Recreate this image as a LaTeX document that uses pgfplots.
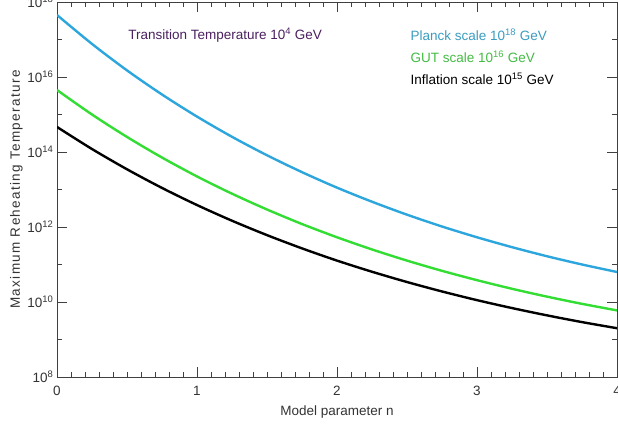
\documentclass[border=0pt]{standalone}
\usepackage{fontspec}
\setmainfont{Liberation Sans}
\usepackage{pgfplots}
\pgfplotsset{compat=1.18}
\definecolor{planck}{HTML}{2CA6DC}
\definecolor{gut}{HTML}{33DD33}
\definecolor{plancktxt}{HTML}{3A9CC0}
\definecolor{guttxt}{HTML}{44BB44}
\definecolor{trans}{HTML}{4A2060}
\begin{document}
\begin{tikzpicture}
\useasboundingbox (-57bp,-58bp) rectangle (561bp,377bp);
\begin{axis}[
    at={(0,0)}, anchor=south west,
    scale only axis,
    width=560bp, height=375bp,
    xmin=0, xmax=4,
    ymode=log, ymin=1e8, ymax=1e18,
    xtick={0,1,2,3,4},
    xticklabels={0,1,2,3,4},
    minor x tick num=9,
    ytick={1e8,1e10,1e12,1e14,1e16,1e18},
    yticklabels={10\textsuperscript{8},10\textsuperscript{10},10\textsuperscript{12},10\textsuperscript{14},10\textsuperscript{16},10\textsuperscript{18}},
    minor ytick={1e9,1e11,1e13,1e15,1e17},
    tick align=inside,
    major tick length=10bp,
    minor tick length=5bp,
    tick style={color=black!75, line width=0.8bp},
    axis line style={color=black!75, line width=0.8bp},
    ticklabel style={font=\fontsize{13.5bp}{15bp}\selectfont, color=black!80},
    xticklabel style={yshift=-6bp},
    xlabel={Model parameter n},
    ylabel={\addfontfeature{LetterSpace=10}Maximum Reheating Temperature},
    xlabel style={font=\fontsize{13.5bp}{15bp}\selectfont, color=black!80, yshift=-3bp},
    ylabel style={font=\fontsize{13.5bp}{15bp}\selectfont, color=black!80, yshift=-2bp},
    clip=true,
]
% Planck scale
\addplot[planck, line width=2.4bp, smooth] coordinates {
    (0,4.50e17) (0.25,7.62e16) (0.5,1.50e16) (0.75,3.41e15)
    (1,8.79e14) (1.25,2.54e14) (1.5,8.18e13) (1.75,2.90e13)
    (2,1.12e13) (2.25,4.72e12) (2.5,2.13e12) (2.75,1.03e12)
    (3,5.32e11) (3.25,2.90e11) (3.5,1.66e11) (3.75,1.00e11) (4,6.31e10)
};
% GUT scale
\addplot[gut, line width=2.4bp, smooth] coordinates {
    (0,4.50e15) (0.25,9.98e14) (0.5,2.52e14) (0.75,7.11e13)
    (1,2.23e13) (1.25,7.73e12) (1.5,2.93e12) (1.75,1.20e12)
    (2,5.32e11) (2.25,2.52e11) (2.5,1.27e11) (2.75,6.78e10)
    (3,3.82e10) (3.25,2.25e10) (3.5,1.39e10) (3.75,8.93e9) (4,5.97e9)
};
% Inflation scale
\addplot[black, line width=2.4bp, smooth] coordinates {
    (0,4.65e14) (0.25,1.20e14) (0.5,3.46e13) (0.75,1.10e13)
    (1,3.85e12) (1.25,1.47e12) (1.5,6.07e11) (1.75,2.69e11)
    (2,1.27e11) (2.25,6.41e10) (2.5,3.41e10) (2.75,1.91e10)
    (3,1.12e10) (3.25,6.89e9) (3.5,4.40e9) (3.75,2.91e9) (4,2.00e9)
};
\node[anchor=west, text=trans, font=\fontsize{13.5bp}{15bp}\selectfont]
    at (rel axis cs:0.121,0.912) {Transition Temperature 10\textsuperscript{4} GeV};
\node[anchor=west, text=plancktxt, font=\fontsize{13.5bp}{15bp}\selectfont]
    at (rel axis cs:0.625,0.912) {Planck scale 10\textsuperscript{18} GeV};
\node[anchor=west, text=guttxt, font=\fontsize{13.5bp}{15bp}\selectfont]
    at (rel axis cs:0.625,0.853) {GUT scale 10\textsuperscript{16} GeV};
\node[anchor=west, text=black, font=\fontsize{13.5bp}{15bp}\selectfont]
    at (rel axis cs:0.625,0.795) {Inflation scale 10\textsuperscript{15} GeV};
\end{axis}
\end{tikzpicture}
\end{document}
